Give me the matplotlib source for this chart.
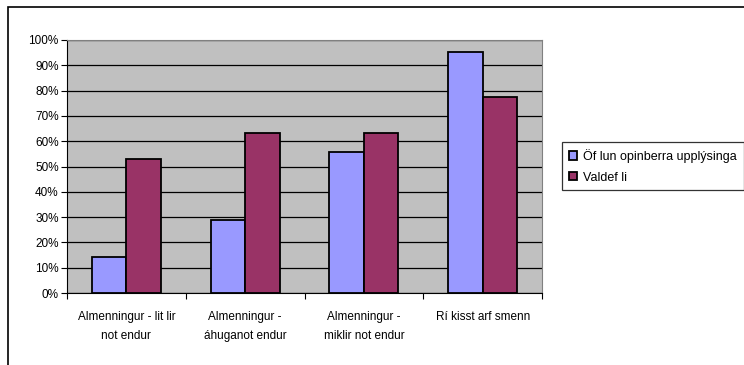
import matplotlib
matplotlib.use("Agg")
import matplotlib.pyplot as plt
import matplotlib.patches as patches
import numpy as np

categories = ["Almenningur - lit lir\nnot endur", "Almenningur -\náhuganot endur",
              "Almenningur -\nmiklir not endur", "Rí kisst arf smenn"]
series_names = ["Öf lun opinberra upplýsinga", "Valdef li"]
oflun = [14.3, 28.9, 55.7, 95.1]
valdefli = [53.0, 63.1, 63.1, 77.6]
yticks = [0, 10, 20, 30, 40, 50, 60, 70, 80, 90, 100]

W, H = 744, 365
fig = plt.figure(figsize=(W / 100, H / 100), dpi=100)
plt.rcParams['font.family'] = ['Liberation Sans', 'DejaVu Sans']

# outer chart border, runs off the right and bottom edges
fig.patches.append(patches.Rectangle((8 / W, 1 - 370 / H), 800 / W, (370 - 7) / H,
                                     transform=fig.transFigure, fill=False,
                                     edgecolor="black", linewidth=1.2))

ax = fig.add_axes([67 / W, 1 - 293 / H, (542 - 67) / W, (293 - 40) / H])
ax.set_facecolor("#C0C0C0")

x = np.arange(len(categories))
w = 0.29
ax.bar(x - w / 2, oflun, w, color="#9999FF", edgecolor="black", linewidth=1.3,
       label=series_names[0], zorder=3)
ax.bar(x + w / 2, valdefli, w, color="#993366", edgecolor="black", linewidth=1.3,
       label=series_names[1], zorder=3)

ax.set_xlim(-0.5, len(categories) - 0.5)
ax.set_ylim(0, 100)
ax.set_yticks(yticks)
ax.set_yticklabels([f"{v}%" for v in yticks], fontsize=8.5)
ax.yaxis.grid(True, color="black", linewidth=0.9, zorder=1)
ax.set_xticks(np.arange(len(categories) + 1) - 0.5, minor=False)
ax.set_xticklabels([])
ax.set_xticks(x, minor=True)
ax.set_xticklabels(categories, minor=True, fontsize=8.5, linespacing=1.75)
ax.tick_params(axis="x", which="minor", length=0, pad=13)
ax.tick_params(axis="x", which="major", length=4, direction="out")
ax.tick_params(axis="y", length=4, direction="out", pad=2)

for s in ["top", "right"]:
    ax.spines[s].set_color("#808080")
ax.spines["left"].set_color("black")
ax.spines["bottom"].set_color("black")

# legend is wider than the figure, so its right side gets cut off
leg = fig.legend(loc="upper left", bbox_to_anchor=(562 / W, 1 - 142 / H),
                 fontsize=9, frameon=True, fancybox=False, edgecolor="black",
                 handlelength=0.65, handleheight=0.65, handletextpad=0.5,
                 borderpad=0.55, labelspacing=0.7, borderaxespad=0)
leg.get_frame().set_linewidth(0.9)

fig.savefig("out.png", dpi=100)
